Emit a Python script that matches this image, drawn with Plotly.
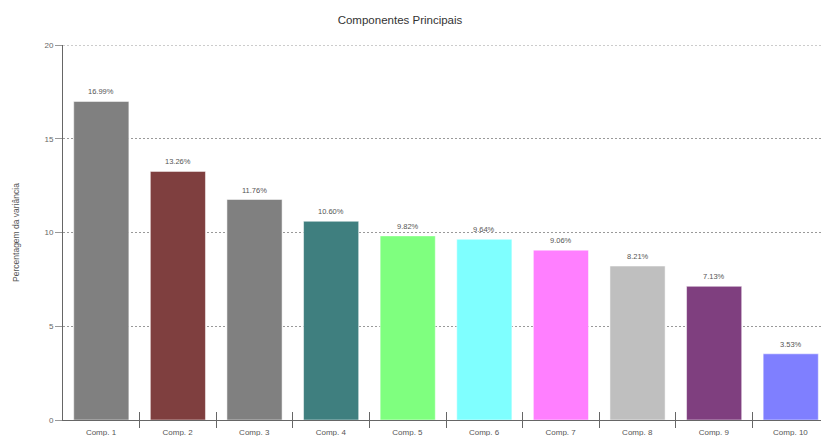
import plotly.graph_objects as go

# Variance explained by each principal component (%)
components = ["Comp. 1", "Comp. 2", "Comp. 3", "Comp. 4", "Comp. 5",
              "Comp. 6", "Comp. 7", "Comp. 8", "Comp. 9", "Comp. 10"]
variance = [16.99, 13.26, 11.76, 10.60, 9.82, 9.64, 9.06, 8.21, 7.13, 3.53]
bar_colors = ["#808080", "#7F3F3F", "#808080", "#3F7F7F", "#7FFF7F",
              "#7FFFFF", "#FF7FFF", "#BFBFBF", "#7F3F7F", "#7F7FFF"]
y_ticks = [0, 5, 10, 15, 20]

positions = list(range(len(components)))
left_edges = [p - 0.5 for p in positions]

FONT = "Liberation Sans, Arial, sans-serif"
AXIS_GRAY = "#666666"
GRID_GRAY = "#999999"
GRID_DASH = "2px,2px"
X_RANGE = [-0.5, 9.395]
PLOT_W = 821 - 63
CAT_PX = PLOT_W / (X_RANGE[1] - X_RANGE[0])

fig = go.Figure()
fig.add_trace(go.Bar(
    x=positions,
    y=variance,
    width=0.72,
    marker=dict(color=bar_colors, line=dict(color="rgba(255,255,255,0.5)", width=1)),
    hoverinfo="skip",
    showlegend=False,
))

# Value labels above each bar
for p, v in zip(positions, variance):
    fig.add_annotation(
        x=p, y=v, text=f"{v:.2f}%", showarrow=False,
        yanchor="bottom", yshift=3,
        font=dict(family=FONT, size=7.5, color="#555555"),
    )

fig.update_layout(
    width=821, height=436,
    margin=dict(l=63, r=0, t=45, b=16),
    paper_bgcolor="white",
    plot_bgcolor="white",
    title=dict(
        text="Componentes Principais",
        x=400 / 821, xanchor="center", y=1 - 20 / 436, yanchor="middle",
        font=dict(family=FONT, size=11.5, color="#333333"),
    ),
    # Boundary ticks cross the axis line: major ticks inside, minor ticks outside;
    # labels are shifted from the left boundary to the category centre
    xaxis=dict(
        range=X_RANGE,
        tickmode="array", tickvals=left_edges, ticktext=components,
        ticks="inside", ticklen=8, tickcolor=AXIS_GRAY,
        minor=dict(tickmode="array", tickvals=left_edges[1:], ticks="outside",
                   ticklen=7, tickcolor=AXIS_GRAY, showgrid=False),
        ticklabelshift=round(CAT_PX / 2), ticklabelstandoff=4,
        tickfont=dict(family=FONT, size=8, color="#555555"),
        showgrid=False, zeroline=False, automargin=False,
        showline=True, linecolor=AXIS_GRAY, linewidth=1,
    ),
    yaxis=dict(
        range=[0, 20],
        tickmode="array", tickvals=y_ticks,
        ticks="outside", ticklen=7, tickcolor="#999999",
        tickfont=dict(family=FONT, size=8, color="#666666"),
        showgrid=True, gridcolor=GRID_GRAY, griddash=GRID_DASH, gridwidth=1,
        zeroline=False,
        showline=True, linecolor=AXIS_GRAY, linewidth=1,
        title=dict(text="Percentagem da variância",
                   font=dict(family=FONT, size=8.5, color="#555555"),
                   standoff=23),
    ),
)

# Dotted guide at the top tick, which sits on the plot edge
fig.add_shape(
    type="line", xref="paper", x0=0, x1=1, yref="y", y0=y_ticks[-1], y1=y_ticks[-1],
    line=dict(color=GRID_GRAY, width=1, dash=GRID_DASH), layer="below",
)

fig.write_html("out.html")
